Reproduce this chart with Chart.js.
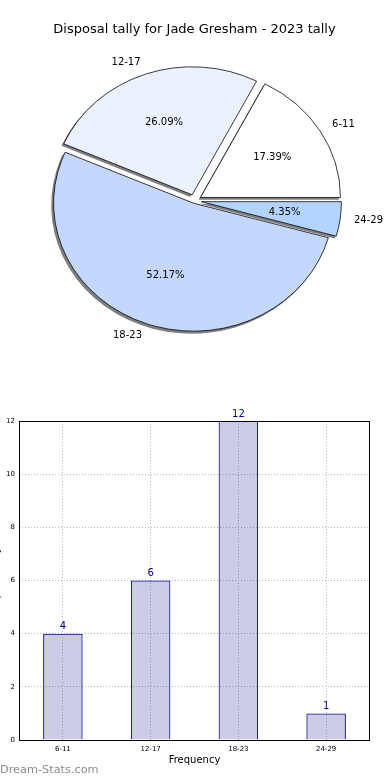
<!DOCTYPE html>
<html>
<head>
<meta charset="utf-8">
<title>Disposal tally - Jade Gresham</title>
<script src="https://cdn.jsdelivr.net/npm/chart.js@4.4.1/dist/chart.umd.min.js"></script>
<style>
    html, body { margin: 0; padding: 0; background: #fff; width: 390px; height: 780px; overflow: hidden; }
    #pie-box { position: absolute; left: 0; top: 0; width: 390px; height: 380px; }
    #bar-box { position: absolute; left: -10px; top: 395px; width: 400px; height: 385px; }
    #brand { position: absolute; left: 0; top: 763px; font: 11.3px "DejaVu Sans", sans-serif; color: #8c8c8c; }
</style>
</head>
<body>
<div id="pie-box"><canvas id="pie-chart"></canvas></div>
<div id="bar-box"><canvas id="bar-chart"></canvas></div>
<div id="brand">Dream-Stats.com</div>

<script>
// data
const categories = ['6-11', '12-17', '18-23', '24-29'];
const tallies = [4, 6, 12, 1];
const yTicks = [0, 2, 4, 6, 8, 10, 12];
const chartTitle = 'Disposal tally for Jade Gresham - 2023 tally';

// styles
const sliceColors = ['#ffffff', '#ebf1ff', '#c4d8ff', '#b3d4ff'];
const explode = [0.05, 0.05, 0.02, 0.05];
const FONT = '"DejaVu Sans", sans-serif';

document.addEventListener('DOMContentLoaded', () => {

    const total = tallies.reduce((a, b) => a + b, 0);

    // matplotlib draws counter-clockwise from east, chart.js clockwise -> reverse
    const order = categories.map((c, i) => i).reverse();
    const pieLabels = order.map(i => categories[i]);
    const pieValues = order.map(i => tallies[i]);
    const pieColors = order.map(i => sliceColors[i]);
    const pieExplode = order.map(i => explode[i]);

    const yScale = 0.914; // the pie is a bit squashed in the original

    /** PIE **/
    const piePlugin = {
        id: 'pieLook',
        afterDatasetUpdate(chart) {
            const meta = chart.getDatasetMeta(0);
            meta.data.forEach((arc, i) => {
                const mid = (arc.startAngle + arc.endAngle) / 2;
                const e = pieExplode[i] * arc.outerRadius;
                arc.x += Math.cos(mid) * e;
                arc.y += Math.sin(mid) * e;
            });
        },
        beforeDatasetsDraw(chart) {
            const ctx = chart.ctx;
            const a = chart.chartArea;
            const cx = (a.left + a.right) / 2, cy = (a.top + a.bottom) / 2;
            ctx.save();
            ctx.translate(cx, cy);
            ctx.scale(1, yScale);
            ctx.translate(-cx, -cy);
            // shadows first, under every wedge
            ctx.fillStyle = 'rgba(0,0,0,0.5)';
            chart.getDatasetMeta(0).data.forEach(arc => {
                const sx = arc.x - 2, sy = arc.y + 2.4;
                ctx.beginPath();
                ctx.moveTo(sx, sy);
                ctx.arc(sx, sy, arc.outerRadius + 0.4, arc.startAngle, arc.endAngle);
                ctx.closePath();
                ctx.fill();
            });
        },
        afterDatasetsDraw(chart) {
            const ctx = chart.ctx;
            ctx.restore();
            const a = chart.chartArea;
            const cy = (a.top + a.bottom) / 2;
            const meta = chart.getDatasetMeta(0);
            ctx.save();
            ctx.font = '10px ' + FONT;
            ctx.fillStyle = '#000';
            ctx.textBaseline = 'middle';
            meta.data.forEach((arc, i) => {
                const mid = (arc.startAngle + arc.endAngle) / 2;
                const r = arc.outerRadius;
                const sy = y => cy + (y - cy) * yScale;
                // percentage inside
                const pct = (pieValues[i] / total * 100).toFixed(2) + '%';
                ctx.textAlign = 'center';
                ctx.fillText(pct, arc.x + Math.cos(mid) * r * 0.6, sy(arc.y + Math.sin(mid) * r * 0.6));
                // category outside
                const lx = arc.x + Math.cos(mid) * r * 1.1;
                ctx.textAlign = Math.cos(mid) > 0 ? 'left' : 'right';
                ctx.fillText(pieLabels[i], lx, sy(arc.y + Math.sin(mid) * r * 1.1));
            });
            ctx.restore();
        }
    };

    new Chart(document.getElementById('pie-chart'), {
        type: 'pie',
        data: {
            labels: pieLabels,
            datasets: [{
                data: pieValues,
                backgroundColor: pieColors,
                borderColor: '#000',
                borderWidth: 0.8,
                borderAlign: 'center'
            }]
        },
        options: {
            responsive: true,
            maintainAspectRatio: false,
            animation: false,
            events: [],
            rotation: 90,
            radius: 140,
            layout: { padding: { left: 0, right: 1, top: 0, bottom: 26 } },
            plugins: {
                legend: { display: false },
                tooltip: { enabled: false },
                title: {
                    display: true,
                    text: chartTitle,
                    color: '#000',
                    font: { family: FONT, size: 13, weight: 'normal' },
                    padding: { top: 22, bottom: 10 }
                }
            }
        },
        plugins: [piePlugin]
    });

    /** BARS **/
    const barPlugin = {
        id: 'barLook',
        afterDatasetsDraw(chart) {
            const ctx = chart.ctx;
            const a = chart.chartArea;
            ctx.save();
            ctx.strokeStyle = '#000';
            ctx.lineWidth = 1;
            ctx.strokeRect(a.left + 0.5, a.top + 0.5, a.right - a.left - 1, a.bottom - a.top);
            ctx.font = '10px ' + FONT;
            ctx.fillStyle = '#00008b';
            ctx.textAlign = 'center';
            ctx.textBaseline = 'bottom';
            chart.getDatasetMeta(0).data.forEach((bar, i) => {
                ctx.fillText(String(tallies[i]), bar.x, bar.y - 2);
            });
            ctx.restore();
        }
    };

    new Chart(document.getElementById('bar-chart'), {
        type: 'bar',
        data: {
            labels: categories,
            datasets: [{
                data: tallies,
                backgroundColor: 'rgba(0,0,128,0.2)',
                borderColor: '#00008b',
                borderWidth: 1,
                barPercentage: 0.45,
                categoryPercentage: 1
            }]
        },
        options: {
            responsive: true,
            maintainAspectRatio: false,
            animation: false,
            events: [],
            layout: { padding: { left: 0, right: 20, top: 26, bottom: 0 } },
            plugins: {
                legend: { display: false },
                tooltip: { enabled: false }
            },
            scales: {
                x: {
                    afterFit: s => { s.height = 40; },
                    grid: { offset: false, color: '#b5b5b5', drawTicks: false },
                    border: { display: false, dash: [1, 2] },
                    ticks: { color: '#000', font: { family: FONT, size: 7 }, padding: 5 },
                    title: {
                        display: true,
                        text: 'Frequency',
                        color: '#000',
                        font: { family: FONT, size: 10 },
                        padding: { top: 0, bottom: 14 }
                    }
                },
                y: {
                    min: 0,
                    max: yTicks[yTicks.length - 1],
                    afterFit: s => { s.width = 29; },
                    afterBuildTicks: s => { s.ticks = yTicks.map(v => ({ value: v })); },
                    grid: { color: '#b5b5b5', drawTicks: false },
                    border: { display: false, dash: [1, 2] },
                    ticks: { color: '#000', font: { family: FONT, size: 7 }, padding: 4 },
                    title: {
                        display: true,
                        text: 'Disposal tally',
                        color: '#000',
                        font: { family: FONT, size: 10 },
                        padding: { top: 0, bottom: 0 }
                    }
                }
            }
        },
        plugins: [barPlugin]
    });
});
</script>
</body>
</html>
